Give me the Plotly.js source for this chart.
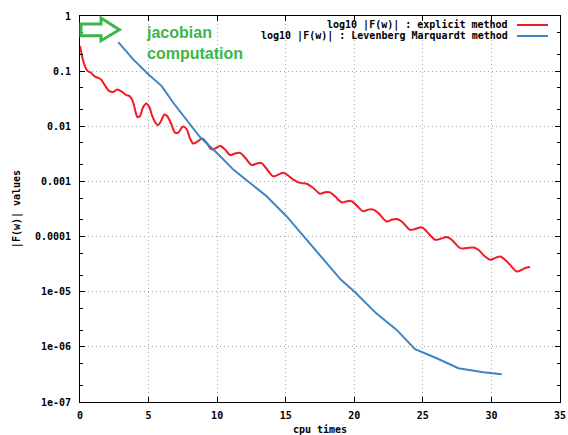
<!DOCTYPE html>
<html>
<head>
<meta charset="utf-8">
<script src="https://cdn.plot.ly/plotly-3.0.1.min.js"></script>
<style>html,body{margin:0;padding:0;background:#fff;}#chart{width:568px;height:435px;}</style>
</head>
<body>
<div id="chart"></div>
<script>
// Explicit method (red)
const explicitX = [0,0.15,0.31,0.56,0.80,1.04,1.29,1.53,1.77,2.14,2.43,2.71,3.08,3.38,3.61,3.84,4.01,4.19,4.38,4.59,4.83,5.07,5.25,5.47,5.69,5.91,6.16,6.38,6.64,6.93,7.17,7.51,7.77,8.02,8.26,8.61,8.90,9.24,9.55,9.84,10.21,10.58,10.94,11.30,11.67,12.03,12.52,12.89,13.23,13.56,14.09,14.46,14.82,15.09,15.55,16.04,16.53,17.01,17.50,17.86,18.23,18.59,19.08,19.45,19.81,20.18,20.66,21.02,21.39,21.75,22.36,22.73,23.09,23.46,24.06,24.43,24.92,25.28,25.89,26.25,26.74,27.10,27.71,28.20,28.68,29.04,29.53,29.90,30.26,30.63,30.99,31.36,31.85,32.21,32.45,32.81];
const explicitY = [0.285,0.1875,0.1325,0.100,0.0937,0.0813,0.076,0.0708,0.0574,0.0434,0.042,0.0466,0.042,0.0366,0.0352,0.0288,0.0202,0.01475,0.01538,0.0219,0.02594,0.0219,0.0157,0.01197,0.01042,0.01247,0.01637,0.01506,0.01125,0.0077,0.0077,0.0099,0.00893,0.0060,0.00486,0.0054,0.0060,0.00501,0.00386,0.00394,0.00438,0.00379,0.00301,0.0032,0.0033,0.00271,0.00198,0.00211,0.00215,0.00175,0.00124,0.00133,0.00143,0.00133,0.00108,0.00094,0.00091,0.00076,0.00060,0.000634,0.000634,0.000537,0.000418,0.000436,0.000436,0.000364,0.000287,0.000308,0.000308,0.000268,0.000188,0.000202,0.000208,0.000188,0.000133,0.000137,0.000147,0.000124,8.77e-5,9.03e-5,9.82e-5,8.77e-5,6.19e-5,6.19e-5,6.35e-5,5.77e-5,4.36e-5,3.8e-5,4.07e-5,4.36e-5,3.8e-5,3.08e-5,2.33e-5,2.5e-5,2.68e-5,2.8e-5];

// Levenberg Marquardt method (blue)
const lmX = [2.79,3.88,4.86,5.96,6.80,7.78,8.75,9.97,11.18,12.40,13.61,15.07,16.41,17.99,19.03,20.00,21.58,23.09,24.43,26.01,27.59,29.41,30.75];
const lmY = [0.337,0.163,0.0937,0.0535,0.0267,0.01328,0.00638,0.0033,0.00164,0.00094,0.000537,0.000232,9.42e-5,3.31e-5,1.64e-5,1.01e-5,4.09e-6,2.03e-6,9.06e-7,6.22e-7,4.09e-7,3.46e-7,3.18e-7];

const xTickVals = [0,5,10,15,20,25,30,35];
const xTickText = ["0","5","10","15","20","25","30","35"];
const yTickVals = [1,0.1,0.01,0.001,0.0001,1e-5,1e-6,1e-7];
const yTickText = ["1","0.1","0.01","0.001","0.0001","1e-05","1e-06","1e-07"];
const yMinorTicks = [0.5,0.2,0.05,0.02,0.005,0.002,5e-4,2e-4,5e-5,2e-5,5e-6,2e-6,5e-7,2e-7];

const seriesNames = ["log10 |F(w)| : explicit method","log10 |F(w)| : Levenberg Marquardt method"];
const seriesColors = ["#ee1c25","#3d85c6"];

const monoFont = {family:"DejaVu Sans Mono", size:10, color:"#000", weight:"bold"};
const green = "#3db54a";

const traces = [
  {x: explicitX, y: explicitY, mode:"lines", name: seriesNames[0], line:{color:seriesColors[0], width:2, shape:"spline", smoothing:0.9}, showlegend:false},
  {x: lmX, y: lmY, mode:"lines", name: seriesNames[1], line:{color:seriesColors[1], width:2}, showlegend:false}
];

const layout = {
  width:568, height:435,
  margin:{l:80, r:8, t:16, b:33},
  paper_bgcolor:"#fff", plot_bgcolor:"#fff",
  font: monoFont,
  showlegend:false,
  xaxis:{
    range:[0,35], tickvals:xTickVals, ticktext:xTickText,
    showline:true, linecolor:"#000", linewidth:1, mirror:"ticks",
    ticks:"inside", ticklen:5, tickcolor:"#000",
    showgrid:true, gridcolor:"#a8a8a8", griddash:"1px,3px", gridwidth:1,
    zeroline:false, tickfont:monoFont, ticklabelstandoff:4,
    title:{text:"cpu times", font:monoFont, standoff:8}
  },
  yaxis:{
    type:"log", range:[-7,0], tickvals:yTickVals, ticktext:yTickText,
    showline:true, linecolor:"#000", linewidth:1, mirror:"ticks",
    ticks:"inside", ticklen:5, tickcolor:"#000",
    showgrid:true, gridcolor:"#a8a8a8", griddash:"1px,3px", gridwidth:1,
    zeroline:false, tickfont:monoFont, ticklabelstandoff:6,
    minor:{tickmode:"array", tickvals:yMinorTicks, ticks:"inside", ticklen:3, tickcolor:"#000", showgrid:false},
    title:{text:"|F(w)| values", font:monoFont, standoff:12}
  },
  shapes:[
    {type:"path", xref:"paper", yref:"paper",
     path:"M 0.002 0.979 L 0.0438 0.979 L 0.0438 0.995 L 0.0819 0.9645 L 0.0438 0.936 L 0.0438 0.949 L 0.002 0.949 Z",
     line:{color:green, width:3}, fillcolor:"rgba(255,255,255,0)"},
    {type:"line", xref:"paper", yref:"paper", x0:0.9104, x1:0.975, y0:0.9767, y1:0.9767, line:{color:seriesColors[0], width:2}},
    {type:"line", xref:"paper", yref:"paper", x0:0.9104, x1:0.975, y0:0.9482, y1:0.9482, line:{color:seriesColors[1], width:2}}
  ],
  annotations:[
    {xref:"paper", yref:"paper", x:0.1333, y:0.9313, xanchor:"left", yanchor:"middle", align:"left",
     text:"jacobian<br>computation", showarrow:false,
     font:{family:"Liberation Sans, Arial", size:16, color:green}},
    {xref:"paper", yref:"paper", x:0.8958, y:0.9767, xanchor:"right", yanchor:"middle", align:"right",
     text:seriesNames[0], showarrow:false, font:monoFont},
    {xref:"paper", yref:"paper", x:0.8958, y:0.9482, xanchor:"right", yanchor:"middle", align:"right",
     text:seriesNames[1], showarrow:false, font:monoFont}
  ]
};

Plotly.newPlot("chart", traces, layout, {displayModeBar:false, staticPlot:true});
</script>
</body>
</html>
